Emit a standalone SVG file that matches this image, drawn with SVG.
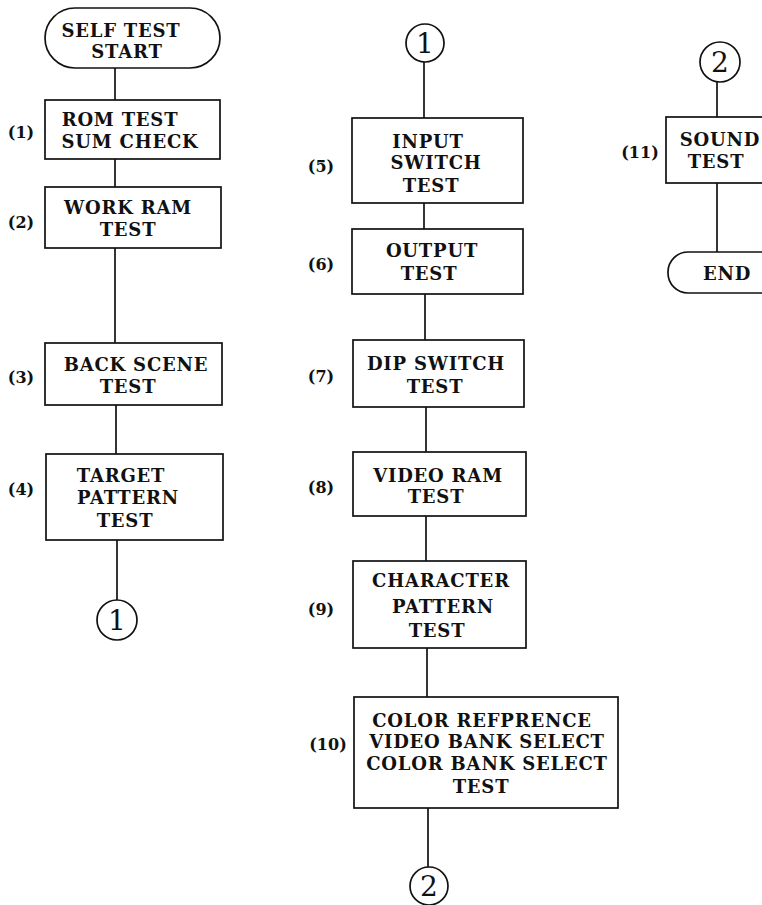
<svg xmlns="http://www.w3.org/2000/svg" width="762" height="905" viewBox="0 0 762 905">
<style>
.b{fill:#fff;stroke:#111;stroke-width:1.7}
.c{fill:none;stroke:#111;stroke-width:1.7}
.t{font-family:"DejaVu Serif","Liberation Serif",serif;font-weight:bold;font-size:18px;letter-spacing:0.8px;fill:#111;text-anchor:middle}
.l{font-family:"DejaVu Serif","Liberation Serif",serif;font-weight:bold;font-size:16px;fill:#111;text-anchor:middle}
.n{font-family:"DejaVu Serif","Liberation Serif",serif;font-size:28px;fill:#111;text-anchor:middle}
</style>
<rect width="762" height="905" fill="#fff"/>
<g id="connectors">
<line class="c" x1="115" y1="68" x2="115" y2="100"/>
<line class="c" x1="115" y1="159" x2="115" y2="187"/>
<line class="c" x1="115" y1="248" x2="115" y2="343"/>
<line class="c" x1="116" y1="405" x2="116" y2="454"/>
<line class="c" x1="117" y1="540" x2="117" y2="600"/>
<line class="c" x1="424" y1="62" x2="424" y2="118"/>
<line class="c" x1="424" y1="203" x2="424" y2="229"/>
<line class="c" x1="425" y1="294" x2="425" y2="340"/>
<line class="c" x1="426" y1="407" x2="426" y2="452"/>
<line class="c" x1="426" y1="516" x2="426" y2="561"/>
<line class="c" x1="427" y1="648" x2="427" y2="697"/>
<line class="c" x1="428" y1="808" x2="428" y2="867"/>
<line class="c" x1="717" y1="82" x2="717" y2="117"/>
<line class="c" x1="717" y1="183" x2="717" y2="252"/>
</g>
<g id="start">
<rect class="b" x="45" y="8" width="175" height="60" rx="30"/>
<text class="t" x="121" y="37">SELF TEST</text>
<text class="t" x="127" y="58">START</text>
</g>
<g id="n1">
<rect class="b" x="45" y="100" width="175" height="59"/>
<text class="t" x="120" y="126">ROM TEST</text>
<text class="t" x="130" y="148">SUM CHECK</text>
<text class="l" x="21" y="138">(1)</text>
</g>
<g id="n2">
<rect class="b" x="45" y="187" width="176" height="61"/>
<text class="t" x="128" y="214">WORK RAM</text>
<text class="t" x="128" y="236">TEST</text>
<text class="l" x="21" y="228">(2)</text>
</g>
<g id="n3">
<rect class="b" x="45" y="343" width="177" height="62"/>
<text class="t" x="136" y="371">BACK SCENE</text>
<text class="t" x="128" y="393">TEST</text>
<text class="l" x="21" y="383">(3)</text>
</g>
<g id="n4">
<rect class="b" x="46" y="454" width="177" height="86"/>
<text class="t" x="121" y="482">TARGET</text>
<text class="t" x="128" y="504">PATTERN</text>
<text class="t" x="125" y="527">TEST</text>
<text class="l" x="21" y="495">(4)</text>
</g>
<g id="c1a">
<circle class="b" cx="117" cy="620" r="20"/>
<text class="n" x="117" y="630">1</text>
</g>
<g id="c1b">
<circle class="b" cx="425" cy="43" r="19"/>
<text class="n" x="425" y="53">1</text>
</g>
<g id="n5">
<rect class="b" x="352" y="118" width="171" height="85"/>
<text class="t" x="428" y="148">INPUT</text>
<text class="t" x="436" y="169">SWITCH</text>
<text class="t" x="431" y="192">TEST</text>
<text class="l" x="321" y="172">(5)</text>
</g>
<g id="n6">
<rect class="b" x="352" y="229" width="171" height="65"/>
<text class="t" x="432" y="257">OUTPUT</text>
<text class="t" x="429" y="280">TEST</text>
<text class="l" x="321" y="270">(6)</text>
</g>
<g id="n7">
<rect class="b" x="353" y="340" width="171" height="67"/>
<text class="t" x="436" y="370">DIP SWITCH</text>
<text class="t" x="435" y="393">TEST</text>
<text class="l" x="321" y="382">(7)</text>
</g>
<g id="n8">
<rect class="b" x="353" y="452" width="173" height="64"/>
<text class="t" x="438" y="482">VIDEO RAM</text>
<text class="t" x="436" y="503">TEST</text>
<text class="l" x="321" y="493">(8)</text>
</g>
<g id="n9">
<rect class="b" x="353" y="561" width="173" height="87"/>
<text class="t" x="441" y="587">CHARACTER</text>
<text class="t" x="443" y="613">PATTERN</text>
<text class="t" x="437" y="637">TEST</text>
<text class="l" x="321" y="615">(9)</text>
</g>
<g id="n10">
<rect class="b" x="354" y="697" width="264" height="111"/>
<text class="t" x="482" y="727">COLOR REFPRENCE</text>
<text class="t" x="487" y="748">VIDEO BANK SELECT</text>
<text class="t" x="487" y="770">COLOR BANK SELECT</text>
<text class="t" x="481" y="793">TEST</text>
<text class="l" x="328" y="750">(10)</text>
</g>
<g id="c2a">
<circle class="b" cx="429" cy="886" r="19"/>
<text class="n" x="429" y="896">2</text>
</g>
<g id="c2b">
<circle class="b" cx="720" cy="62" r="20"/>
<text class="n" x="720" y="72">2</text>
</g>
<g id="n11">
<rect class="b" x="666" y="117" width="110" height="66"/>
<text class="t" x="720" y="146">SOUND</text>
<text class="t" x="716" y="168">TEST</text>
<text class="l" x="640" y="158">(11)</text>
</g>
<g id="end">
<rect class="b" x="668" y="252" width="130" height="41" rx="20"/>
<text class="t" x="727" y="280">END</text>
</g>
</svg>
